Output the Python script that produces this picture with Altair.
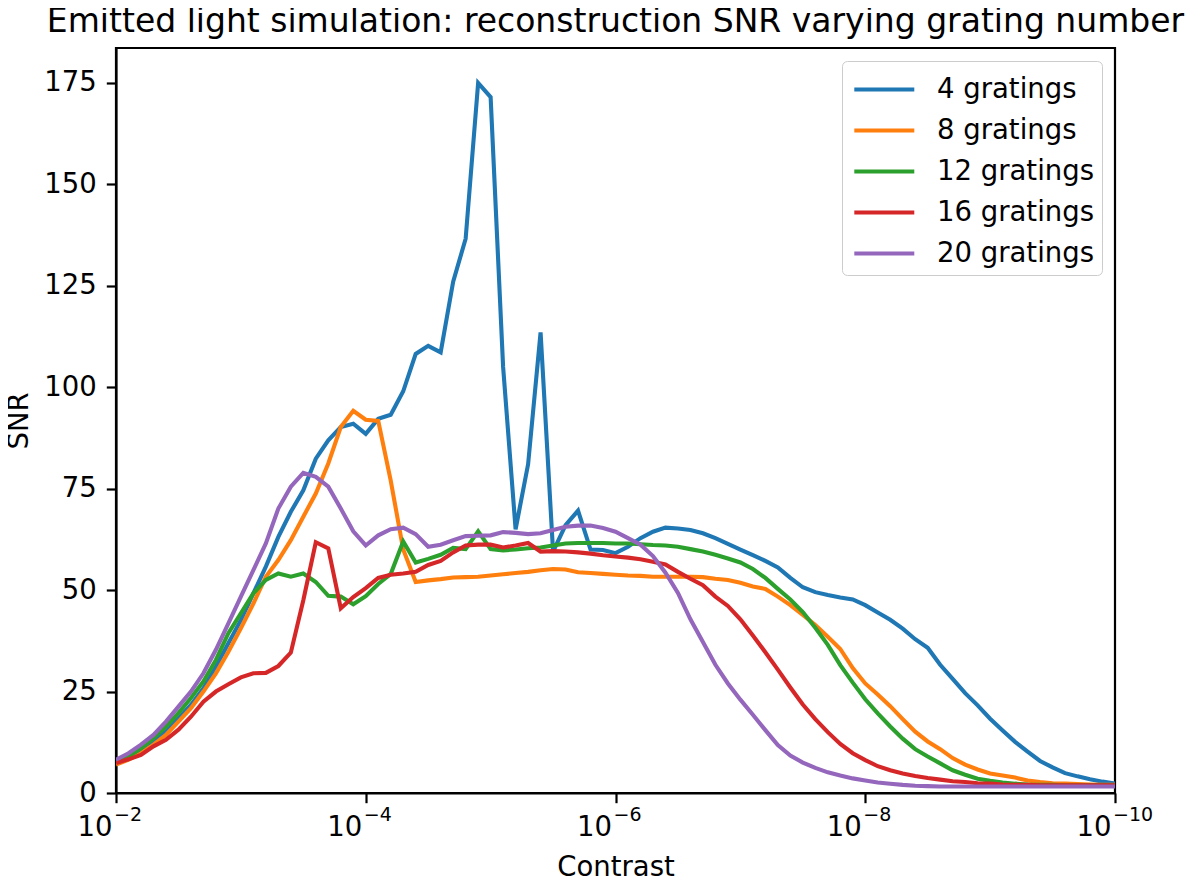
import altair as alt
import pandas as pd

# log10(contrast) sampling grid, 10^-2 down to 10^-10 in 0.1-decade steps
EXPONENTS = [round(-2 - 0.1 * i, 1) for i in range(81)]

SERIES_NAMES = ["4 gratings", "8 gratings", "12 gratings", "16 gratings", "20 gratings"]
SERIES_COLORS = ["#1f77b4", "#ff7f0e", "#2ca02c", "#d62728", "#9467bd"]

snr_4 = [
    7.8, 9.0, 10.6, 12.7, 15.2, 18.4, 21.7, 25.8, 31.1, 36.9,
    42.6, 49.2, 55.8, 63.1, 69.3, 74.6, 82.4, 86.9, 90.2, 91.0,
    88.5, 92.2, 93.2, 99.0, 108.2, 110.2, 108.6, 126.0, 136.6, 175.0,
    171.5, 105.0, 65.0, 81.0, 113.5, 59.5, 66.0, 69.6, 60.0, 59.9,
    59.1, 60.7, 62.8, 64.4, 65.4, 65.2, 64.8, 64.0, 62.8, 61.4,
    60.0, 58.6, 57.2, 55.6, 53.0, 50.7, 49.5, 48.8, 48.2, 47.7,
    46.3, 44.5, 42.7, 40.5, 37.9, 35.8, 31.6, 28.1, 24.6, 21.6,
    18.3, 15.4, 12.6, 10.2, 7.9, 6.3, 4.9, 4.1, 3.4, 2.8, 2.3,
]
snr_8 = [
    7.0, 8.2, 9.8, 11.9, 14.3, 17.6, 20.9, 25.0, 29.5, 34.8,
    40.6, 46.7, 53.3, 57.4, 62.3, 68.1, 73.8, 81.2, 90.2, 94.2,
    92.0, 91.7, 77.0, 60.0, 52.0, 52.4, 52.7, 53.1, 53.2, 53.3,
    53.6, 53.9, 54.2, 54.5, 54.9, 55.2, 55.1, 54.4, 54.2, 54.0,
    53.8, 53.6, 53.5, 53.3, 53.3, 53.3, 53.3, 53.2, 52.8, 52.5,
    51.8, 50.9, 50.3, 48.4, 46.3, 43.9, 41.4, 38.5, 35.5, 30.8,
    27.0, 24.3, 21.4, 18.2, 15.1, 12.7, 10.8, 8.6, 7.0, 5.8,
    4.8, 4.3, 3.8, 3.1, 2.7, 2.4, 2.3, 2.2, 2.1, 2.0, 2.0,
]
snr_12 = [
    7.8, 9.0, 11.0, 13.5, 16.4, 19.7, 23.4, 27.5, 32.8, 39.4,
    44.3, 49.2, 52.5, 54.1, 53.3, 54.1, 52.0, 48.6, 48.4, 46.5,
    48.5, 51.5, 54.0, 62.0, 56.8, 57.7, 58.7, 60.4, 60.1, 64.5,
    60.1, 59.8, 60.0, 60.3, 60.5, 61.0, 61.5, 61.6, 61.6, 61.6,
    61.5, 61.5, 61.3, 61.1, 61.0, 60.7, 60.1, 59.5, 58.7, 57.8,
    56.8, 55.2, 53.0, 50.3, 47.7, 44.6, 40.7, 36.5, 31.5, 27.2,
    23.1, 19.6, 16.4, 13.4, 10.8, 9.0, 7.3, 5.6, 4.5, 3.5,
    3.0, 2.6, 2.3, 2.1, 2.0, 2.0, 1.9, 1.9, 1.9, 1.9, 1.9,
]
snr_16 = [
    7.4, 8.3, 9.4, 11.5, 13.1, 15.6, 18.8, 22.5, 25.0, 26.8,
    28.5, 29.5, 29.6, 31.3, 34.6, 47.5, 61.8, 60.3, 45.5, 48.3,
    50.5, 53.0, 53.8, 54.1, 54.5, 56.2, 57.2, 59.3, 61.0, 61.2,
    61.2, 60.5, 61.0, 61.6, 59.5, 59.6, 59.5, 59.3, 59.0, 58.6,
    58.3, 58.0, 57.6, 57.0, 56.3, 54.5, 52.8, 51.2, 48.4, 46.1,
    42.8, 38.8, 34.7, 30.4, 26.0, 21.8, 18.2, 15.0, 12.1, 9.8,
    8.1, 6.6, 5.6, 4.8, 4.2, 3.7, 3.3, 2.9, 2.7, 2.4,
    2.3, 2.1, 2.0, 2.0, 1.9, 1.9, 1.9, 1.9, 1.9, 1.9, 1.9,
]
snr_20 = [
    8.2, 9.8, 11.9, 14.3, 17.6, 21.3, 25.0, 29.5, 35.3, 41.8,
    48.4, 54.9, 61.5, 70.1, 75.5, 78.9, 77.9, 75.5, 70.1, 64.5,
    61.0, 63.5, 65.0, 65.4, 63.8, 60.7, 61.2, 62.3, 63.3, 63.4,
    63.5, 64.3, 64.1, 63.8, 64.0, 64.8, 65.6, 65.9, 65.9, 65.3,
    64.4, 62.8, 61.2, 58.4, 54.3, 49.3, 42.8, 37.2, 31.6, 27.0,
    23.0, 19.3, 15.5, 11.8, 9.2, 7.5, 6.2, 5.1, 4.3, 3.6,
    3.1, 2.6, 2.3, 2.0, 1.8, 1.7, 1.6, 1.6, 1.6, 1.6,
    1.6, 1.6, 1.6, 1.6, 1.6, 1.6, 1.6, 1.6, 1.6, 1.6, 1.6,
]

X_TICKS = [1e-2, 1e-4, 1e-6, 1e-8, 1e-10]
X_TICK_EXPONENTS = ["−2", "−4", "−6", "−8", "−10"]
Y_TICKS = [0, 25, 50, 75, 100, 125, 150, 175]

rows = []
for name, vals in zip(SERIES_NAMES, [snr_4, snr_8, snr_12, snr_16, snr_20]):
    for e, v in zip(EXPONENTS, vals):
        rows.append({"contrast": 10.0 ** e, "snr": v, "series": name})
df = pd.DataFrame(rows)
ticks_df = pd.DataFrame({"contrast": X_TICKS, "exp": X_TICK_EXPONENTS})

FONT = "DejaVu Sans"
FS = 27.5

x_scale = alt.Scale(type="log", domain=[1e-10, 1e-2], reverse=True, nice=False)
y_scale = alt.Scale(domain=[0, 183.6], nice=False)

lines = alt.Chart(df).mark_line(strokeWidth=4.1, clip=True).encode(
    x=alt.X(
        "contrast:Q",
        scale=x_scale,
        axis=alt.Axis(
            values=X_TICKS, labelExpr="'10'", title="Contrast",
            labelAlign="right", labelOffset=-4,
            labelBaseline="alphabetic", labelPadding=33, titlePadding=12,
        ),
    ),
    y=alt.Y(
        "snr:Q",
        scale=y_scale,
        axis=alt.Axis(values=Y_TICKS, title="SNR", labelPadding=10, titlePadding=10),
    ),
    color=alt.Color(
        "series:N",
        sort=SERIES_NAMES,
        scale=alt.Scale(domain=SERIES_NAMES, range=SERIES_COLORS),
        legend=alt.Legend(
            title=None, orient="top-right", offset=13,
            symbolType="M-0.9,0H2.433", symbolSize=1296, symbolStrokeWidth=4.1,
            labelFont=FONT, labelFontSize=FS, labelColor="black", labelOffset=46,
            labelLimit=400, rowPadding=7, padding=8,
            fillColor="white", strokeColor="#cccccc", cornerRadius=5,
        ),
    ),
)

# superscript exponents of the x tick labels
exponents = alt.Chart(ticks_df).mark_text(
    align="left", baseline="alphabetic", dx=-2, dy=28,
    font=FONT, fontSize=19, color="black",
).encode(
    x=alt.X("contrast:Q", scale=x_scale, title="Contrast"),
    y=alt.datum(0),
    text="exp:N",
)

chart = alt.layer(lines, exponents).properties(
    width=999,
    height=745,
    autosize=alt.AutoSizeParams(type="none"),
    padding={"left": 108, "top": 40, "right": 77, "bottom": 86},
    title=alt.TitleParams(
        text="Emitted light simulation: reconstruction SNR varying grating number",
        font=FONT, fontSize=33, fontWeight="normal", color="black",
        anchor="middle", offset=9,
    ),
).configure_view(
    stroke="black", strokeWidth=2.2
).configure_axis(
    grid=False,
    domainColor="black", domainWidth=2.2,
    tickColor="black", tickWidth=2.2, tickSize=9.7,
    labelFont=FONT, labelFontSize=FS, labelColor="black",
    titleFont=FONT, titleFontSize=FS, titleFontWeight="normal", titleColor="black",
)

chart.save("out.html", embed_options={"renderer": "svg", "actions": False})
